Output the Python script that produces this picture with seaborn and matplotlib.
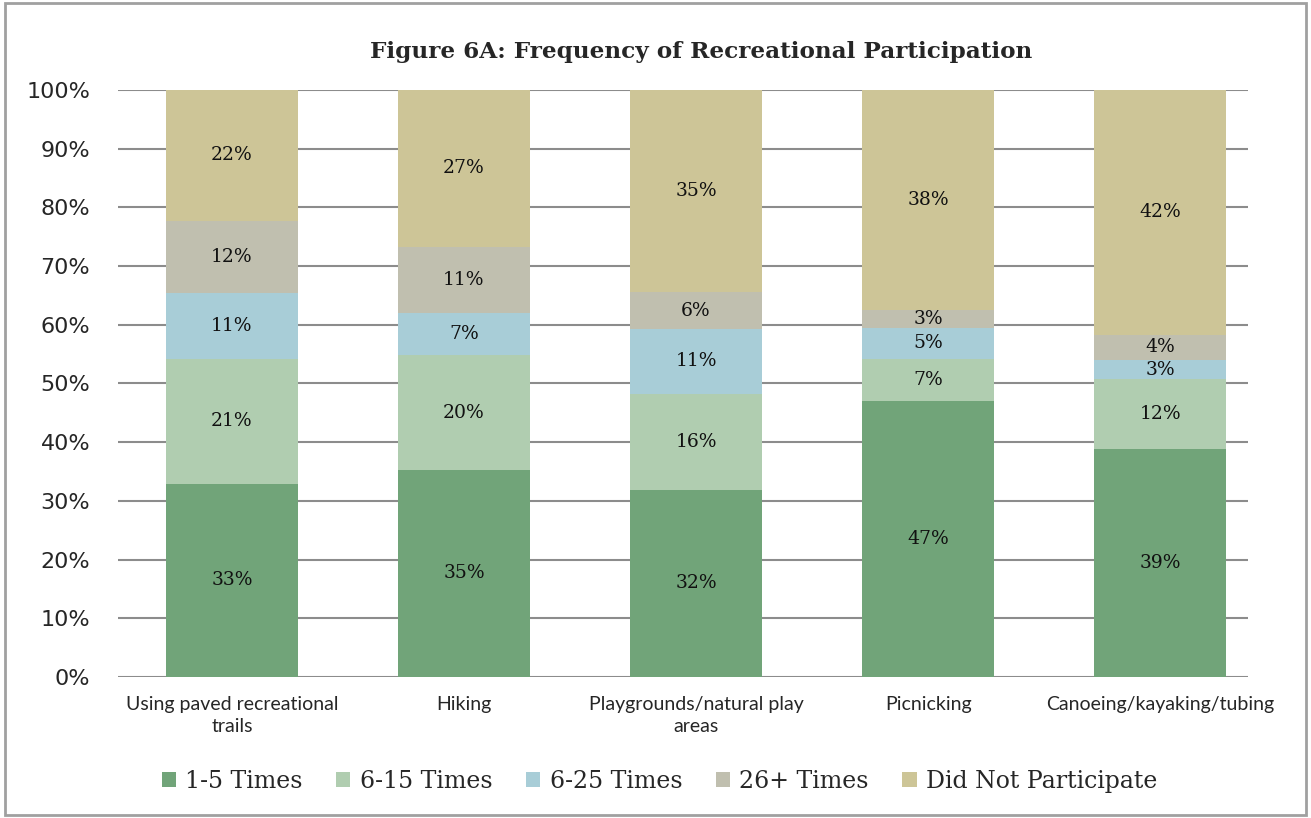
import numpy as np
import pandas as pd
import matplotlib
matplotlib.use("Agg")
import matplotlib.pyplot as plt
import seaborn as sns
from matplotlib.patches import Rectangle, Patch

categories = ["Using paved recreational\ntrails", "Hiking", "Playgrounds/natural play\nareas",
              "Picnicking", "Canoeing/kayaking/tubing"]
series_names = ["1-5 Times", "6-15 Times", "6-25 Times", "26+ Times", "Did Not Participate"]
times_1_5 = [32.9, 35.3, 31.9, 47.1, 38.8]
times_6_15 = [21.3, 19.5, 16.3, 7.1, 11.9]
times_6_25 = [11.2, 7.2, 11.1, 5.3, 3.3]
times_26p = [12.3, 11.3, 6.2, 3.1, 4.3]
did_not = [22.3, 26.7, 34.5, 37.4, 41.7]
labels_1_5 = ["33%", "35%", "32%", "47%", "39%"]
labels_6_15 = ["21%", "20%", "16%", "7%", "12%"]
labels_6_25 = ["11%", "7%", "11%", "5%", "3%"]
labels_26p = ["12%", "11%", "6%", "3%", "4%"]
labels_dnp = ["22%", "27%", "35%", "38%", "42%"]
colors = ["#71a479", "#b0cdb0", "#a8cdd7", "#c0bfaf", "#cdc597"]

series = [times_1_5, times_6_15, times_6_25, times_26p, did_not]
labels = [labels_1_5, labels_6_15, labels_6_25, labels_26p, labels_dnp]

sns.set_theme(style="white")
plt.rcParams["font.family"] = ["DejaVu Sans"]

fig = plt.figure(figsize=(13.11, 8.18), dpi=100)
ax = fig.add_axes([0.090, 0.1724, 0.862, 0.7176])

cum = np.cumsum(np.array(series), axis=0)
for i in range(len(series) - 1, -1, -1):
    df = pd.DataFrame({"cat": categories, "val": cum[i]})
    sns.barplot(data=df, x="cat", y="val", color=colors[i], width=0.569,
                ax=ax, saturation=1, linewidth=0, zorder=3)

for i in range(len(series)):
    for j in range(len(categories)):
        bottom = cum[i][j] - series[i][j]
        ymid = bottom + series[i][j] / 2
        ax.text(j, ymid, labels[i][j], ha="center", va="center", fontsize=13.5,
                family="DejaVu Serif", color="#111111", zorder=5)

ax.set_ylim(0, 100)
ax.set_xlim(-0.491, 4.379)
ax.set_yticks(np.arange(0, 101, 10))
ax.set_yticklabels([f"{v}%" for v in range(0, 101, 10)], fontsize=16)
ax.set_xticks(range(len(categories)))
ax.set_xticklabels(categories, fontsize=14, family="Lato", linespacing=1.35)
ax.set_xlabel("")
ax.set_ylabel("")
ax.tick_params(axis="x", length=0, pad=14)
ax.tick_params(axis="y", length=0, pad=20)
ax.yaxis.grid(True, color="#8c8c8c", linewidth=1.5, zorder=0)
ax.set_axisbelow(True)
for s in ax.spines.values():
    s.set_visible(False)

fig.text(0.535, 0.936, "Figure 6A: Frequency of Recreational Participation",
         ha="center", va="center", fontsize=16.7, fontweight="bold", family="DejaVu Serif")

handles = [Patch(facecolor=c, edgecolor="none") for c in colors]
fig.legend(handles, series_names, loc="center", bbox_to_anchor=(0.503, 0.045), ncol=5,
           frameon=False, prop={"family": "DejaVu Serif", "size": 17},
           handlelength=0.6, handleheight=0.6, handletextpad=0.4, columnspacing=1.42)

fig.patches.append(Rectangle((0.004, 0.004), 0.992, 0.992, transform=fig.transFigure,
                             fill=False, edgecolor="#a0a0a0", linewidth=2))

fig.savefig("out.png", dpi=100, facecolor="white")
